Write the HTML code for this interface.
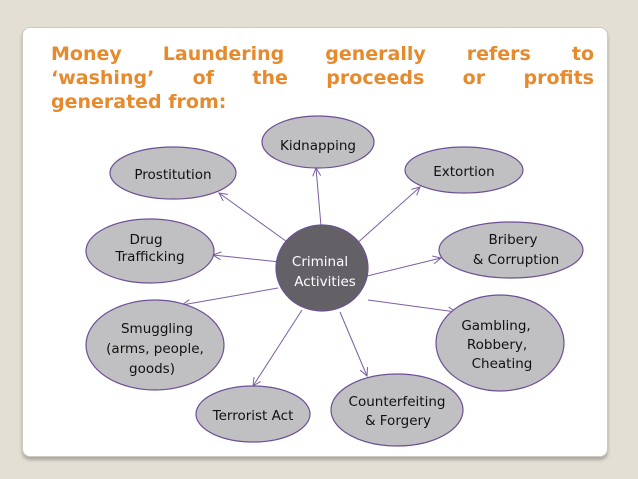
<!DOCTYPE html>
<html><head><meta charset="utf-8"><style>
html,body{margin:0;padding:0;}
body{width:638px;height:479px;background:#e4dfd5;position:relative;overflow:hidden;}
.card{position:absolute;left:22px;top:27px;width:584px;height:428px;background:#fff;border-radius:8px;box-shadow:0 3px 3px rgba(0,0,0,0.25);border:1px solid #cfcac0;}
.t{position:absolute;left:51px;width:543px;font:bold 19px "DejaVu Sans",sans-serif;color:#e68a2e;line-height:24px;text-align:justify;text-align-last:justify;white-space:nowrap;}
svg{position:absolute;left:0;top:0;}
</style></head><body>
<div class="card"></div>
<div class="t" style="top:42px">Money Laundering generally refers to</div>
<div class="t" style="top:66px">‘washing’ of the proceeds or profits</div>
<div class="t" style="top:90px;text-align-last:left">generated from:</div>
<svg width="638" height="479" font-family="DejaVu Sans, sans-serif" font-size="13.5" text-anchor="middle">
<defs><marker id="a" markerWidth="10" markerHeight="10" refX="9" refY="5" orient="auto" markerUnits="userSpaceOnUse"><path d="M1,1 L9,5 L1,9" fill="none" stroke="#7b5ea3" stroke-width="1"/></marker></defs>
<g stroke="#7b5ea3" stroke-width="1" marker-end="url(#a)">
<line x1="321" y1="226" x2="316" y2="168"/>
<line x1="290" y1="244" x2="219" y2="193"/>
<line x1="354" y1="246" x2="420" y2="187"/>
<line x1="280" y1="262" x2="213" y2="255"/>
<line x1="367" y1="276" x2="441" y2="258"/>
<line x1="278" y1="288" x2="182" y2="305"/>
<line x1="368" y1="300" x2="456" y2="312"/>
<line x1="302" y1="310" x2="253" y2="386"/>
<line x1="340" y1="312" x2="367" y2="376"/>
</g>
<g fill="#c0c0c2" stroke="#6e4f97" stroke-width="1.2">
<ellipse cx="318" cy="142" rx="56" ry="26"/>
<ellipse cx="173" cy="173" rx="63" ry="26"/>
<ellipse cx="464" cy="170" rx="59" ry="23"/>
<ellipse cx="150" cy="251" rx="64" ry="32"/>
<ellipse cx="511" cy="250" rx="72" ry="28"/>
<ellipse cx="500" cy="343" rx="64" ry="48"/>
<ellipse cx="155" cy="345" rx="69" ry="45"/>
<ellipse cx="253" cy="414" rx="57" ry="28"/>
<ellipse cx="397" cy="410" rx="66" ry="36"/>
<ellipse cx="322" cy="268" rx="46" ry="43" fill="#636166"/>
</g>
<g fill="#111">
<text x="318" y="150">Kidnapping</text>
<text x="173" y="179">Prostitution</text>
<text x="464" y="176">Extortion</text>
<text x="146" y="244">Drug</text><text x="150" y="261">Trafficking</text>
<text x="513" y="244">Bribery</text><text x="516" y="264">&amp; Corruption</text>
<text x="496" y="330">Gambling,</text><text x="497" y="349">Robbery,</text><text x="502" y="368">Cheating</text>
<text x="157" y="333">Smuggling</text><text x="155" y="353">(arms, people,</text><text x="152" y="373">goods)</text>
<text x="253" y="420">Terrorist Act</text>
<text x="397" y="406">Counterfeiting</text><text x="398" y="425">&amp; Forgery</text>
</g>
<g fill="#fff"><text x="320" y="266">Criminal</text><text x="325" y="286">Activities</text></g>
</svg>
</body></html>
